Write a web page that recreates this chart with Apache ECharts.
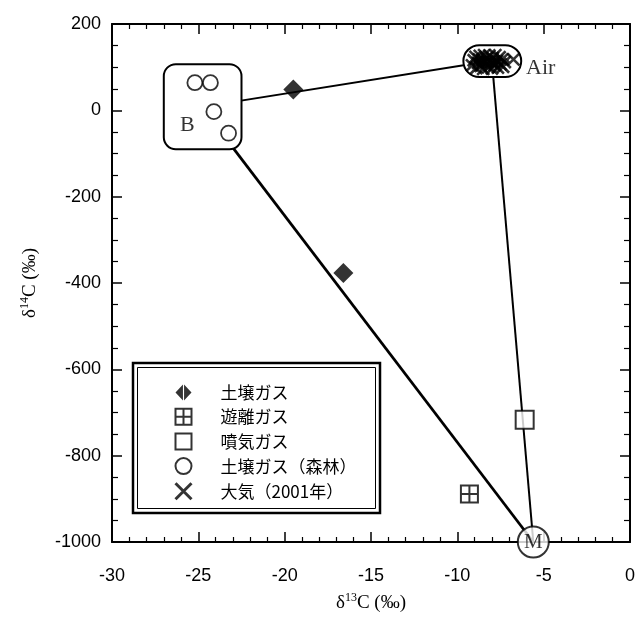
<!DOCTYPE html>
<html>
<head>
<meta charset="utf-8">
<script src="https://cdn.jsdelivr.net/npm/echarts@6/dist/echarts.min.js"></script>
<style>
html,body{margin:0;padding:0;background:#fff;}
#chart{width:638px;height:622px;}
</style>
</head>
<body>
<div id="chart"></div>
<script>
// ---- data ----
const xTickValues = [-30, -25, -20, -15, -10, -5, 0];
const yTickValues = [-1000, -800, -600, -400, -200, 0, 200];

const seriesNames = ['土壌ガス', '遊離ガス', '噴気ガス', '土壌ガス（森林）', '大気（2001年）'];

const soilGas = [[-19.5, 48], [-16.6, -377]];
const freeGas = [[-9.3, -889]];
const fumaroleGas = [[-6.1, -717]];
const forestSoilGas = [[-25.2, 64], [-24.3, 64], [-24.1, -3], [-23.25, -53]];
const air2001 = [
  [-9.15, 104], [-9.05, 116], [-8.95, 124], [-8.9, 98], [-8.8, 110],
  [-8.7, 126], [-8.65, 103], [-8.55, 117], [-8.5, 96], [-8.45, 128],
  [-8.35, 109], [-8.3, 120], [-8.2, 100], [-8.15, 127], [-8.05, 112],
  [-8.0, 97], [-7.95, 121], [-7.85, 105], [-7.8, 128], [-7.7, 114],
  [-7.65, 99], [-7.55, 123], [-7.5, 107], [-7.4, 118], [-7.35, 101],
  [-7.25, 112], [-8.75, 118], [-8.25, 113], [-7.9, 111], [-8.6, 108],
  [-6.75, 118]
];

// end members: B, Air, M
const endB = [-24.8, 8];
const endAir = [-8.0, 115];
const endM = [-5.6, -1000];

// end-member boxes: [xmin, ymin, xmax, ymax]
const boxes = [[-27.0, -90, -22.5, 107], [-9.65, 77, -6.3, 151]];

// text labels
const labelNames = ['B', 'Air'];
const labelAnchors = [[-25.64, -34], [-5.17, 97]];

// ---- styles ----
const boxRadii = [12, 16];
const serif = 'Liberation Serif';
const sans = 'Liberation Sans';
const cjk = 'Noto Sans CJK JP';

const pathSquare = 'path://M0,0L10,0L10,10L0,10Z';
const pathCrossSquare = 'path://M0,0L10,0L10,10L0,10ZM5,0L5,10M0,5L10,5';
const pathX = 'path://M0,0L10,10M10,0L0,10';
const pathSplitDiamond = 'path://M0,5L4.65,0L4.65,10ZM5.35,0L10,5L5.35,10Z';

const chart = echarts.init(document.getElementById('chart'), null, {renderer: 'canvas'});

const xMin = xTickValues[0], xMax = xTickValues[xTickValues.length - 1];
const xInt = xTickValues[1] - xTickValues[0];
const yMin = yTickValues[0], yMax = yTickValues[yTickValues.length - 1];
const yInt = yTickValues[1] - yTickValues[0];

const nameRich = {
  n: {fontFamily: serif, fontSize: 19, color: '#000'},
  s: {fontFamily: serif, fontSize: 12, color: '#000', padding: [0, 0, 11, 0]}
};

function xAxisCfg(pos, showLabel) {
  return {
    type: 'value', position: pos, min: xMin, max: xMax, interval: xInt,
    name: showLabel ? '{n|δ}{s|13}{n|C (‰)}' : '',
    nameLocation: 'middle', nameGap: 50,
    nameTextStyle: {color: '#000', rich: nameRich},
    axisLine: {show: true, onZero: false, lineStyle: {color: '#000', width: 2}},
    axisTick: {show: true, inside: true, length: 10, lineStyle: {color: '#000', width: 1.5}},
    minorTick: {show: true, splitNumber: 5, length: 5, lineStyle: {color: '#000', width: 1.2}},
    axisLabel: {show: showLabel, margin: 25, color: '#000', fontFamily: sans, fontSize: 18,
      formatter: v => String(v)},
    splitLine: {show: false}, minorSplitLine: {show: false}
  };
}
function yAxisCfg(pos, showLabel) {
  return {
    type: 'value', position: pos, min: yMin, max: yMax, interval: yInt,
    name: showLabel ? '{n|δ}{s|14}{n|C (‰)}' : '',
    nameLocation: 'middle', nameGap: 70, nameRotate: 90,
    nameTextStyle: {color: '#000', rich: nameRich},
    axisLine: {show: true, onZero: false, lineStyle: {color: '#000', width: 2}},
    axisTick: {show: true, inside: true, length: 10, lineStyle: {color: '#000', width: 1.5}},
    minorTick: {show: true, splitNumber: 4, length: 6, lineStyle: {color: '#000', width: 1.2}},
    axisLabel: {show: showLabel, margin: 11, color: '#000', fontFamily: sans, fontSize: 18,
      formatter: v => String(v)},
    splitLine: {show: false}, minorSplitLine: {show: false}
  };
}

const option = {
  animation: false,
  backgroundColor: '#fff',
  grid: {left: 112, right: 5, top: 24, bottom: 80, containLabel: false},
  xAxis: [xAxisCfg('bottom', true), xAxisCfg('top', false)],
  yAxis: [yAxisCfg('left', true), yAxisCfg('right', false)],
  graphic: [
    {type: 'rect', z: 1, shape: {x: 133, y: 363, width: 247, height: 150},
      style: {fill: '#fff', stroke: '#000', lineWidth: 2.5}},
    {type: 'rect', z: 1, shape: {x: 137.5, y: 367.5, width: 238, height: 141},
      style: {fill: 'none', stroke: '#000', lineWidth: 1}}
  ],
  legend: {
    z: 10,
    orient: 'vertical', left: 174, top: 384, padding: 0,
    itemWidth: 64, itemHeight: 16, itemGap: 6.7,
    selectedMode: false,
    textStyle: {color: '#000', fontFamily: cjk, fontSize: 17},
    data: [
      {name: seriesNames[0], icon: pathSplitDiamond},
      {name: seriesNames[1], icon: pathCrossSquare},
      {name: seriesNames[2], icon: pathSquare},
      {name: seriesNames[3], icon: 'circle'},
      {name: seriesNames[4], icon: pathX, itemStyle: {borderWidth: 3}}
    ]
  },
  series: [
    // mixing lines
    {type: 'line', data: [endB, endAir], symbol: 'none', z: 2, silent: true,
      lineStyle: {color: '#000', width: 2}},
    {type: 'line', data: [endB, endM], symbol: 'none', z: 2, silent: true,
      lineStyle: {color: '#000', width: 2.8}},
    {type: 'line', data: [endAir, endM], symbol: 'none', z: 2, silent: true,
      lineStyle: {color: '#000', width: 2}},
    // end-member boxes
    {type: 'custom', z: 3, silent: true, clip: false,
      encode: {x: [0, 2], y: [1, 3]},
      data: boxes,
      renderItem: function (params, api) {
        const p0 = api.coord([api.value(0), api.value(3)]);
        const p1 = api.coord([api.value(2), api.value(1)]);
        return {
          type: 'rect',
          shape: {x: p0[0], y: p0[1], width: p1[0] - p0[0], height: p1[1] - p0[1], r: boxRadii[params.dataIndex]},
          style: {fill: '#fff', stroke: '#000', lineWidth: 2}
        };
      }
    },
    {name: seriesNames[0], type: 'scatter', z: 5, data: soilGas, symbol: 'diamond', symbolSize: 20,
      itemStyle: {color: '#000', borderWidth: 0}},
    {name: seriesNames[1], type: 'scatter', z: 5, data: freeGas, symbol: pathCrossSquare, symbolSize: 17,
      itemStyle: {color: '#fff', borderColor: '#000', borderWidth: 2}},
    {name: seriesNames[2], type: 'scatter', z: 5, data: fumaroleGas, symbol: pathSquare, symbolSize: 18,
      itemStyle: {color: '#fff', borderColor: '#000', borderWidth: 2}},
    {name: seriesNames[3], type: 'scatter', z: 5, data: forestSoilGas, symbol: 'circle', symbolSize: 15,
      itemStyle: {color: '#fff', borderColor: '#000', borderWidth: 1.8}},
    {name: seriesNames[4], type: 'scatter', z: 5, data: air2001, symbol: pathX, symbolSize: 12,
      itemStyle: {color: '#000', borderColor: '#000', borderWidth: 2.6}},
    // M end member
    {type: 'scatter', z: 6, silent: true, clip: false, data: [endM], symbol: 'circle', symbolSize: 31,
      itemStyle: {color: '#fff', borderColor: '#000', borderWidth: 2},
      label: {show: true, position: 'inside', formatter: 'M', color: '#000', fontFamily: serif, fontSize: 21}},
    // text labels
    {type: 'scatter', z: 6, silent: true, clip: false,
      data: labelAnchors.map((p, i) => ({name: labelNames[i], value: p})),
      symbolSize: 1, itemStyle: {color: 'rgba(0,0,0,0)'},
      label: {show: true, position: 'inside', formatter: '{b}', color: '#000', fontFamily: serif, fontSize: 22}}
  ]
};
chart.setOption(option);
</script>
</body>
</html>
